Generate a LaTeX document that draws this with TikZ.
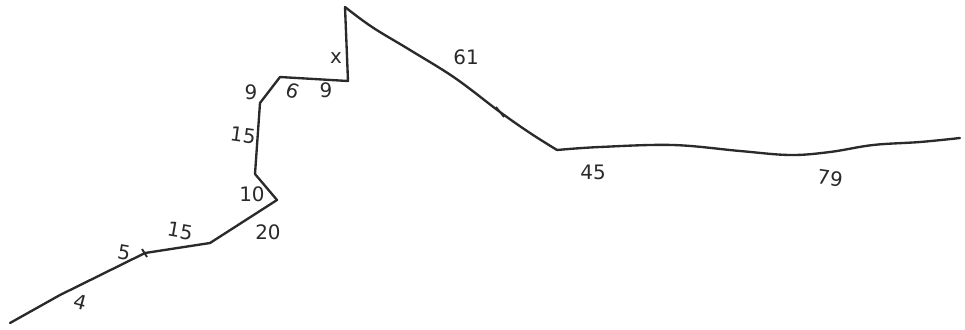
\documentclass[tikz,border=0pt]{standalone}
\usepackage{fontspec}
\setmainfont{DejaVu Sans}
\usetikzlibrary{calc}
\definecolor{ink}{HTML}{2A2A2A}
\tikzset{
    trail/.style={
        draw=ink,
        line width=2pt,
        line join=round,
        line cap=round
    },
    tick/.style={
        draw=ink,
        line width=1.6pt
    },
    num/.style={
        text=ink,
        inner sep=0pt,
        font=\fontsize{17}{17}\selectfont
    }
}

\begin{document}
\begin{tikzpicture}[x=0.3mm, y=-0.3mm]
\useasboundingbox (0,0) rectangle (965,329);

% corners of the sketched line
\coordinate (p0) at (10,323);
\coordinate (p1) at (145,253);
\coordinate (p2) at (210,243);
\coordinate (p3) at (277,200);
\coordinate (p4) at (255,174);
\coordinate (p5) at (260,103);
\coordinate (p6) at (280,77);
\coordinate (p7) at (348,81);
\coordinate (p8) at (345,7);
\coordinate (p9) at (500,112);
\coordinate (p10) at (557,150);
\coordinate (p11) at (960,138);

\draw[trail] (p0) -- (60,295) -- (p1) -- (p2) -- (p3) -- (p4) -- (p5)
    -- (p6) -- (p7) -- (p8);
\draw[trail] plot[smooth, tension=0.6] coordinates
    {(p8) (372,27) (410,50) (455,78) (p9) (530,133) (p10)};
\draw[trail] plot[smooth, tension=0.6] coordinates
    {(p10) (600,147) (673,145) (740,151) (790,155) (830,152) (873,145) (920,142) (p11)};

% small marks across the line
\draw[tick] ($(p1)+(-3,-4)$) -- ($(p1)+(2,4)$);
\draw[tick] ($(p9)+(-4,-5)$) -- ($(p9)+(4,5)$);

% distances
\node[num, rotate=-15] (d1) at (80,302) {4};
\node[num, rotate=-10] (d2) at (124,253) {5};
\node[num, rotate=-10] (d3) at (180,231) {15};
\node[num] (d4) at (268,232) {20};
\node[num] (d5) at (252,194) {10};
\node[num, rotate=-8] (d6) at (243,135) {15};
\node[num] (d7) at (251,92) {9};
\node[num, rotate=-20] (d8) at (293,91) {6};
\node[num] (d9) at (326,90) {9};
\node[num] (dx) at (336,58) {x};
\node[num] (d10) at (466,57) {61};
\node[num] (d11) at (593,172) {45};
\node[num, rotate=-8] (d12) at (830,178) {79};

\end{tikzpicture}
\end{document}
